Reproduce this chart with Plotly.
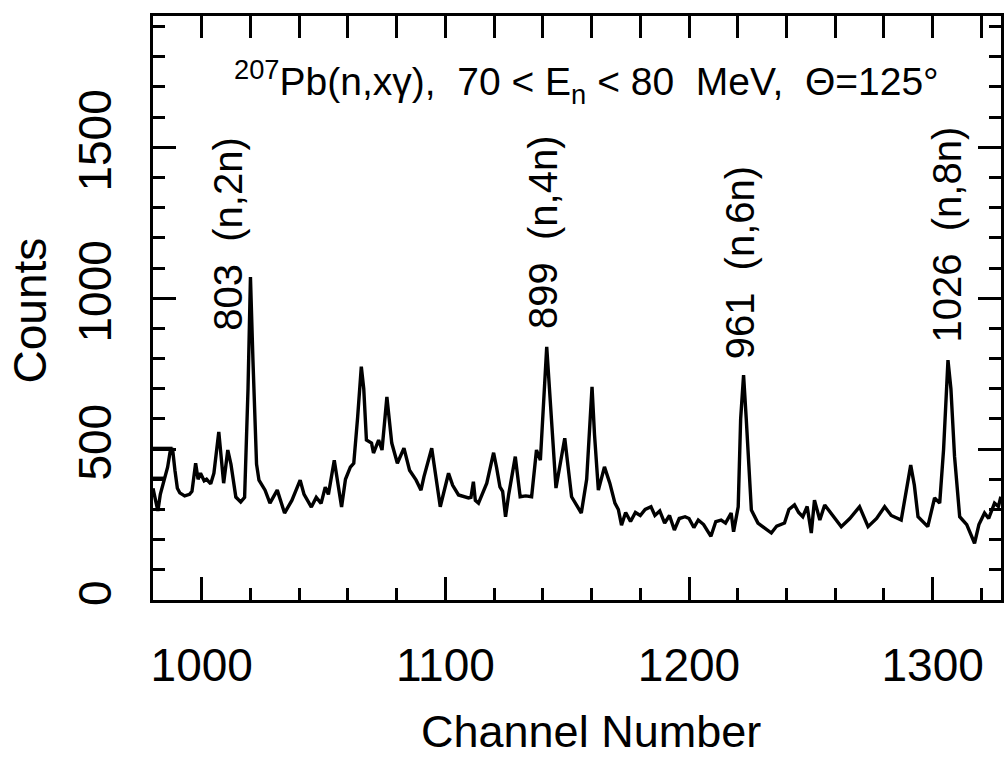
import plotly.graph_objects as go

# ---- data ----
channel = [980, 981, 982, 983, 985, 986, 987, 988, 989, 990, 991, 993, 995, 996,
           997.5, 998.5, 999.5, 1001, 1002, 1003.7, 1005, 1007, 1009, 1010.7, 1012,
           1014, 1016, 1017.6, 1019, 1020, 1021, 1022.5, 1023.5, 1025, 1026, 1028,
           1031, 1034, 1037, 1040.4, 1042, 1045, 1047, 1049, 1050.7, 1052, 1054.4,
           1057.4, 1059, 1061, 1062.4, 1064, 1065.5, 1066.5, 1067.6, 1069.7, 1070.5,
           1072.6, 1074, 1076, 1077, 1078, 1080.3, 1083, 1085.3, 1088, 1090, 1091.2,
           1094.4, 1096, 1097.9, 1101.3, 1103, 1105.4, 1107, 1109.5, 1110.5, 1111.5,
           1112.3, 1113.6, 1117, 1119.8, 1121, 1122.4, 1123.5, 1124.7, 1126, 1128.7,
           1130.7, 1133, 1135.4, 1137.4, 1138.2, 1139, 1141.6, 1143.6, 1145.4, 1149,
           1151.8, 1155.8, 1158, 1160.2, 1161.2, 1162.8, 1165.3, 1167.5, 1169.6, 1171,
           1172.3, 1174, 1176, 1178, 1180, 1182, 1184.4, 1186, 1188, 1190, 1192, 1194,
           1196, 1198.4, 1200, 1202, 1203.8, 1206, 1209, 1211, 1213.2, 1215, 1217.3,
           1218.3, 1220.2, 1221.2, 1222.4, 1223.5, 1225.6, 1228.3, 1231, 1233.8, 1236,
           1239.2, 1241, 1243.3, 1245, 1246.7, 1248.5, 1250.2, 1251.5, 1253.7, 1255.7,
           1259, 1262.5, 1266, 1270, 1273.5, 1277, 1280.3, 1283, 1287.1, 1289, 1291,
           1292.5, 1294, 1298, 1300.8, 1302.9, 1304.5, 1306.3, 1307.5, 1309, 1311.1,
           1314, 1317.2, 1319, 1321.3, 1323, 1325.4, 1327, 1328]
counts = [370, 335, 295, 350, 404, 440, 490, 503, 430, 370, 355, 345, 350, 360,
          453, 400, 420, 395, 400, 385, 420, 557, 387, 497, 450,
          341, 325, 340, 700, 1070, 800, 450, 397, 380, 364, 321,
          364, 288, 330, 397, 350, 308, 340, 320, 374, 350, 463,
          308, 400, 440, 453, 606, 773, 700, 530, 520, 487,
          530, 497, 673, 600, 520, 453, 503, 430, 397, 364, 408,
          503, 420, 309, 420, 380, 348, 345, 338, 340, 392,
          330, 321, 387, 488, 440, 375, 360, 276, 350, 475,
          342, 345, 342, 497, 480, 463, 839, 607, 371, 536,
          342, 288, 400, 706, 550, 364, 441, 387, 321, 300,
          248, 290, 260, 290, 280, 300, 309, 280, 295, 255, 280, 232,
          270, 276, 270, 240, 265, 250, 211, 260, 265, 255, 288,
          226, 309, 600, 745, 600, 298, 255, 240, 222, 245,
          255, 300, 315, 290, 276, 310, 222, 331, 265, 315,
          280, 243, 270, 309, 243, 270, 309, 280, 265, 350, 447,
          380, 276, 243, 338, 321, 500, 795, 700, 475, 276,
          250, 188, 250, 288, 270, 321, 310, 342]

# short flat segments drawn at the start of the spectrum
box_channel = [980, 988, None, 980, 985]
box_counts = [503, 503, None, 404, 404]

peak_labels = ["803  (n,2n)", "899  (n,4n)", "961  (n,6n)", "1026  (n,8n)"]
peak_label_x = [1011, 1140, 1221, 1306]
peak_label_y = [1212, 1219, 1116, 1212]

x_range = [980, 1328.06]
y_range = [0, 1935]

FONT = "Liberation Sans"

fig = go.Figure()
fig.add_trace(go.Scatter(x=channel, y=counts, mode="lines",
                         line=dict(color="black", width=3.4), showlegend=False,
                         hoverinfo="skip"))
fig.add_trace(go.Scatter(x=box_channel, y=box_counts, mode="lines",
                         line=dict(color="black", width=3.0), showlegend=False,
                         hoverinfo="skip"))
# invisible trace on the top axis so it is drawn
fig.add_trace(go.Scatter(x=x_range, y=[None, None], xaxis="x2", mode="lines",
                         showlegend=False, hoverinfo="skip"))

for txt, xx, yy in zip(peak_labels, peak_label_x, peak_label_y):
    fig.add_annotation(x=xx, y=yy, text=txt, textangle=-90, showarrow=False,
                       xanchor="center", yanchor="middle",
                       font=dict(family=FONT, size=40, color="black"))

fig.add_annotation(x=1158, y=1715,
                   text="<sup>207</sup>Pb(n,xγ),  70 &lt; E<sub>n</sub> &lt; 80  MeV,  Θ=125°",
                   showarrow=False, xanchor="center", yanchor="middle",
                   font=dict(family=FONT, size=39, color="black"))

# axis titles placed as in the reference
fig.add_annotation(xref="paper", yref="paper", x=0.516, y=-0.226,
                   text="Channel Number", showarrow=False,
                   xanchor="center", yanchor="middle",
                   font=dict(family=FONT, size=45, color="black"))
fig.add_annotation(xref="paper", yref="paper", x=-0.1445, y=0.4966,
                   text="Counts", textangle=-90, showarrow=False,
                   xanchor="center", yanchor="middle",
                   font=dict(family=FONT, size=46, color="black"))

fig.update_layout(
    width=1004, height=758,
    margin=dict(l=153, r=0, t=16, b=158),
    paper_bgcolor="white", plot_bgcolor="white",
    font=dict(family=FONT, color="black"),
    xaxis=dict(range=x_range, showgrid=False, zeroline=False,
               showline=True, linecolor="black", linewidth=3,
               ticks="inside", ticklen=23, tickwidth=2.5, tickcolor="black",
               tick0=1000, dtick=100,
               minor=dict(ticks="inside", ticklen=12, tickwidth=2.5,
                          tickcolor="black", dtick=20, showgrid=False),
               tickfont=dict(family=FONT, size=46),
               ticklabelstandoff=23),
    xaxis2=dict(range=x_range, overlaying="x", side="top", anchor="y",
                showgrid=False, zeroline=False, showline=True,
                linecolor="black", linewidth=3,
                ticks="inside", ticklen=22, tickwidth=2.5, tickcolor="black",
                tick0=1000, dtick=20, showticklabels=False),
    yaxis=dict(range=y_range, showgrid=False, zeroline=False,
               showline=True, linecolor="black", linewidth=3, mirror="ticks",
               ticks="inside", ticklen=23, tickwidth=2.5, tickcolor="black",
               tick0=0, dtick=500, tickangle=-90,
               minor=dict(ticks="inside", ticklen=12, tickwidth=2.5,
                          tickcolor="black", dtick=100, showgrid=False),
               tickfont=dict(family=FONT, size=46),
               ticklabelstandoff=21),
)

fig.write_html("out.html")
